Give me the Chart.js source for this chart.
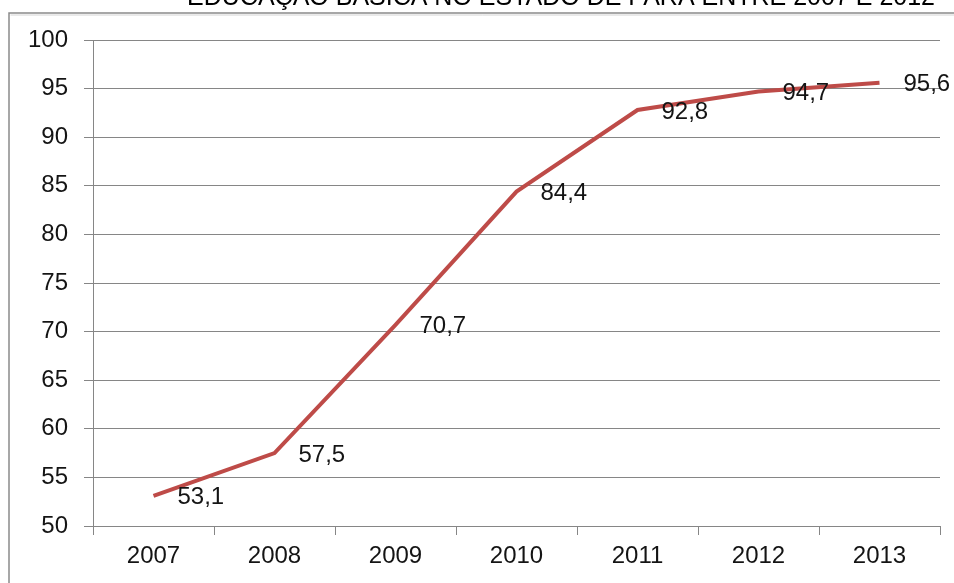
<!DOCTYPE html>
<html lang="pt">
<head>
<meta charset="utf-8">
<title>Educação Básica no Estado do Pará</title>
<script src="https://cdn.jsdelivr.net/npm/chart.js@4.4.1/dist/chart.umd.min.js"></script>
<style>
  html, body { margin: 0; padding: 0; background: #ffffff; }
  #wrap { width: 954px; height: 583px; position: relative; }
</style>
</head>
<body>
<div id="wrap"><canvas id="c" width="954" height="583"></canvas></div>
<script>
// Chart data
const titleText = 'EDUCAÇÃO BÁSICA NO ESTADO DE PARÁ ENTRE 2007 E 2012';
const years = ['2007', '2008', '2009', '2010', '2011', '2012', '2013'];
const values = [53.1, 57.5, 70.7, 84.4, 92.8, 94.7, 95.6];
const yMin = 50;
const yMax = 100;
const yStep = 5;

const FONT = 'Arial, "Liberation Sans", sans-serif';
const TEXT_COLOR = '#141414';
const GRID_COLOR = '#868686';
const LINE_COLOR = '#BE4B48';
const LABEL_SIZE = 24;

// Outer frame and the (partly cut) heading at the very top
const framePlugin = {
  id: 'frame',
  beforeDraw(chart) {
    const ctx = chart.ctx;
    ctx.save();
    ctx.fillStyle = '#ffffff';
    ctx.fillRect(0, 0, chart.width, chart.height);
    ctx.strokeStyle = '#8a8a8a';
    ctx.lineWidth = 1.5;
    ctx.beginPath();
    ctx.moveTo(9, chart.height);
    ctx.lineTo(9, 13);
    ctx.lineTo(chart.width, 13);
    ctx.stroke();
    ctx.strokeStyle = '#d4d4d4';
    ctx.lineWidth = 1;
    ctx.beginPath();
    ctx.moveTo(10.5, 15);
    ctx.lineTo(chart.width, 15);
    ctx.stroke();
    ctx.fillStyle = '#000000';
    ctx.font = '25px ' + FONT;
    ctx.textAlign = 'right';
    ctx.textBaseline = 'alphabetic';
    ctx.fillText(titleText, 935, 5);
    ctx.restore();
  }
};

// Value labels written beside each point, with a decimal comma
const valueLabelPlugin = {
  id: 'valueLabels',
  afterDatasetsDraw(chart) {
    const ctx = chart.ctx;
    const meta = chart.getDatasetMeta(0);
    ctx.save();
    ctx.fillStyle = TEXT_COLOR;
    ctx.font = LABEL_SIZE + 'px ' + FONT;
    ctx.textAlign = 'left';
    ctx.textBaseline = 'middle';
    meta.data.forEach((pt, i) => {
      const txt = values[i].toFixed(1).replace('.', ',');
      ctx.fillText(txt, pt.x + 24, pt.y + 2);
    });
    ctx.restore();
  }
};

new Chart(document.getElementById('c'), {
  type: 'line',
  data: {
    labels: years,
    datasets: [{
      data: values,
      borderColor: LINE_COLOR,
      borderWidth: 4,
      pointRadius: 0,
      pointHoverRadius: 0,
      tension: 0,
      fill: false,
      borderCapStyle: 'butt',
      borderJoinStyle: 'miter'
    }]
  },
  options: {
    responsive: false,
    animation: false,
    events: [],
    layout: { padding: { top: 40, right: 14, left: 0, bottom: 0 } },
    plugins: {
      legend: { display: false },
      title: { display: false },
      tooltip: { enabled: false }
    },
    scales: {
      x: {
        type: 'category',
        offset: true,
        afterFit(scale) { scale.height = 57; },
        grid: {
          offset: true,
          drawOnChartArea: false,
          drawTicks: true,
          tickLength: 9,
          color: GRID_COLOR,
          lineWidth: 1
        },
        border: { display: true, color: GRID_COLOR, width: 1 },
        ticks: {
          color: TEXT_COLOR,
          font: { family: FONT, size: LABEL_SIZE },
          padding: 7,
          maxRotation: 0
        }
      },
      y: {
        min: yMin,
        max: yMax,
        afterFit(scale) { scale.width = 93; },
        grid: {
          color: GRID_COLOR,
          lineWidth: 1,
          drawTicks: true,
          tickLength: 9
        },
        border: { display: true, color: GRID_COLOR, width: 1 },
        ticks: {
          stepSize: yStep,
          color: TEXT_COLOR,
          font: { family: FONT, size: LABEL_SIZE },
          padding: 16
        }
      }
    }
  },
  plugins: [framePlugin, valueLabelPlugin]
});
</script>
</body>
</html>
